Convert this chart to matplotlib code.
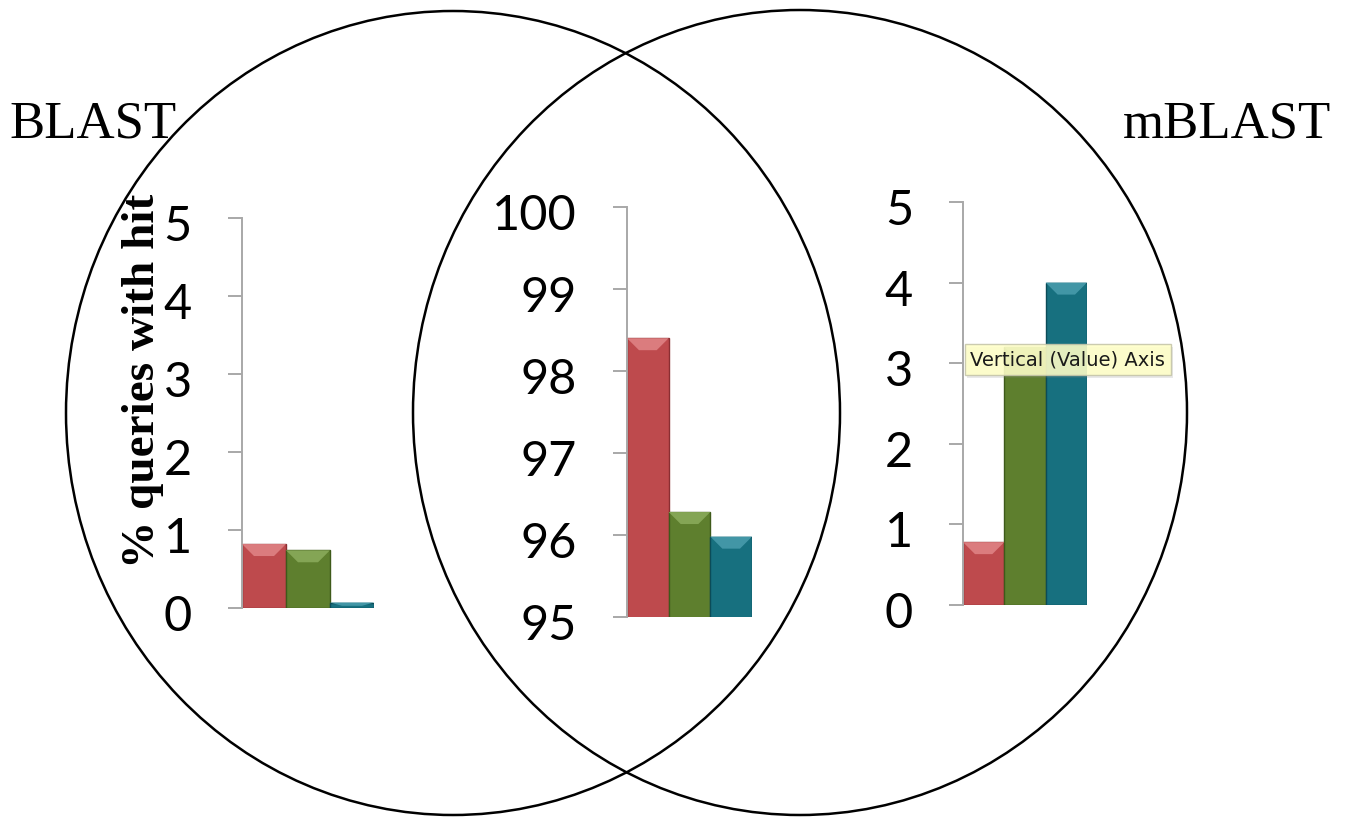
import matplotlib
matplotlib.use('Agg')
import matplotlib.pyplot as plt
from matplotlib.patches import Ellipse, Rectangle, Polygon
from matplotlib.transforms import ScaledTranslation
import numpy as np

# ---- data ----
series_names = ['Series 1', 'Series 2', 'Series 3']
blast_only = [0.82, 0.74, 0.07]        # % queries with hit, BLAST only
both_tools = [98.40, 96.28, 95.98]     # % queries with hit, both
mblast_only = [0.78, 3.20, 4.00]       # % queries with hit, mBLAST only
ticks_pct = [0, 1, 2, 3, 4, 5]
ticks_both = [95, 96, 97, 98, 99, 100]
set_labels = ['BLAST', 'mBLAST']
y_label = '% queries with hit'
tooltip_text = 'Vertical (Value) Axis'

# ---- style ----
bar_colors = ['#BE4A4D', '#5E7F2E', '#17707F']
edge_colors = ['#8A2E32', '#3E5A1A', '#0B4C58']
light_colors = ['#DB7C7E', '#84A555', '#4296A6']

W, H = 1355, 821
fig = plt.figure(figsize=(W / 100, H / 100), dpi=100)
fig.patch.set_facecolor('white')


def px_axes(l, r, top, bottom):
    return fig.add_axes([l / W, 1 - bottom / H, (r - l) / W, (bottom - top) / H])


def draw_chart(ax, values, ylim, ticks):
    x = np.arange(len(values))
    bars = ax.bar(x, values, width=1.0, color=bar_colors,
                  edgecolor=edge_colors, linewidth=1.0, zorder=2)
    ax.set_xlim(-0.5, len(values) - 0.5)
    ax.set_ylim(*ylim)
    ax.set_yticks(ticks)
    ax.set_yticklabels([str(t) for t in ticks])
    ax.set_xticks([])
    for s in ['top', 'right', 'bottom']:
        ax.spines[s].set_visible(False)
    ax.spines['left'].set_color('#A8A8A8')
    ax.spines['left'].set_linewidth(1.4)
    ax.tick_params(axis='y', length=10, width=1.4, color='#A8A8A8',
                   pad=26, labelsize=35, labelcolor='black')
    for lab in ax.get_yticklabels():
        lab.set_fontfamily('Lato')
        lab.set_transform(lab.get_transform() +
                          ScaledTranslation(0, -5 / 100, fig.dpi_scale_trans))
    ax.patch.set_alpha(0)
    # bevel highlight on top of each bar
    fig.canvas.draw()
    inv = ax.transData.inverted()
    for rect, lc in zip(bars, light_colors):
        x0, w = rect.get_x(), rect.get_width()
        top = rect.get_y() + rect.get_height()
        bottom_vis = max(rect.get_y(), ylim[0])
        p_top = ax.transData.transform((x0, top))
        p_bot = ax.transData.transform((x0, bottom_vis))
        hpx = p_top[1] - p_bot[1]
        d = min(12, hpx * 0.6)
        if d < 2:
            continue
        _, y1 = inv.transform((p_top[0], p_top[1] - d))
        x_in, _ = inv.transform((p_top[0] + 12, p_top[1]))
        dx = x_in - x0
        poly = Polygon([(x0, top), (x0 + w, top), (x0 + w - dx, y1), (x0 + dx, y1)],
                       closed=True, facecolor=lc, edgecolor='none', zorder=3)
        ax.add_patch(poly)
    return bars


ax1 = px_axes(242, 374, 218, 608)
draw_chart(ax1, blast_only, (0, 5), ticks_pct)
ax2 = px_axes(627, 752, 207, 617)
draw_chart(ax2, both_tools, (95, 100), ticks_both)
ax3 = px_axes(963, 1087, 202, 605)
draw_chart(ax3, mblast_only, (0, 5), ticks_pct)

# ---- overlay: Venn circles, labels, tooltip ----
ov = fig.add_axes([0, 0, 1, 1])
ov.set_xlim(0, W)
ov.set_ylim(H, 0)
ov.axis('off')
ov.patch.set_alpha(0)

ov.add_patch(Ellipse((453, 413), 774, 804, fill=False, edgecolor='black', linewidth=1.8))
ov.add_patch(Ellipse((800, 412.5), 774, 805, fill=False, edgecolor='black', linewidth=1.8))

ov.text(9, 138, set_labels[0], fontsize=38, family='Liberation Serif',
        ha='left', va='baseline', color='black')
ov.text(1331, 138, set_labels[1], fontsize=38, family='Liberation Serif',
        ha='right', va='baseline', color='black')
ov.text(143, 381, y_label, fontsize=34, family='Liberation Serif', weight='bold',
        rotation=90, ha='center', va='center', color='black')

# tooltip
ov.add_patch(Rectangle((967, 347), 206, 31, facecolor='#808080', alpha=0.18,
                       edgecolor='none'))
ov.add_patch(Rectangle((965, 344), 206, 31, facecolor='#FFFFC8', alpha=0.88,
                       edgecolor='#C4C4A8', linewidth=1))
ov.text(970, 360, tooltip_text, fontsize=14, family='DejaVu Sans',
        ha='left', va='center', color='#1A1A1A')

fig.savefig('out.png', dpi=100, facecolor='white')
